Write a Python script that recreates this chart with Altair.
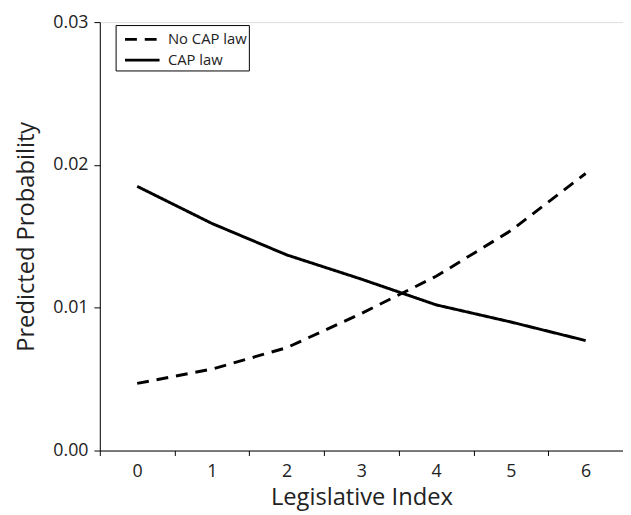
import altair as alt
import pandas as pd

index_vals = [0, 1, 2, 3, 4, 5, 6]
no_cap = [0.0047, 0.0057, 0.0072, 0.0096, 0.0122, 0.0154, 0.0194]
cap = [0.0185, 0.0159, 0.0137, 0.0120, 0.0102, 0.0090, 0.0077]
series_names = ["No CAP law", "CAP law"]

rows = []
for i, v in zip(index_vals, no_cap):
    rows.append({"idx": i, "p": v, "s": series_names[0]})
for i, v in zip(index_vals, cap):
    rows.append({"idx": i, "p": v, "s": series_names[1]})
df = pd.DataFrame(rows)

FONT = "Open Sans"

chart = alt.Chart(df).mark_line(color="black", strokeWidth=3).encode(
    x=alt.X("idx:O", bandPosition=0.5,
            scale=alt.Scale(type="band", paddingInner=0, paddingOuter=0),
            axis=alt.Axis(title="Legislative Index", labelAngle=0, tickBand="extent",
                          tickSize=5, labelPadding=7, titlePadding=6,
                          domainColor="black", tickColor="black", grid=False,
                          labelFontSize=18, titleFontSize=24, labelColor="#222",
                          titleColor="#222", labelFont=FONT, titleFont=FONT,
                          titleFontWeight="normal")),
    y=alt.Y("p:Q", scale=alt.Scale(domain=[0, 0.03], nice=False, zero=True),
            axis=alt.Axis(title="Predicted Probability", values=[0, 0.01, 0.02, 0.03],
                          format=".2f", tickSize=6, labelPadding=6, titlePadding=15,
                          domainColor="black", tickColor="black", grid=False,
                          labelFontSize=18, titleFontSize=24, labelColor="#222",
                          titleColor="#222", labelFont=FONT, titleFont=FONT,
                          titleFontWeight="normal")),
    strokeDash=alt.StrokeDash("s:N",
                              scale=alt.Scale(domain=series_names, range=[[12, 8], [1, 0]]),
                              legend=alt.Legend(title=None, orient="none", legendX=16, legendY=3,
                                                strokeColor="black", fillColor="white",
                                                padding=2, symbolType="M-0.45,0H2.73",
                                                symbolStrokeColor="black", symbolStrokeWidth=3,
                                                symbolSize=484, labelFontSize=15,
                                                labelFont=FONT, labelColor="#222",
                                                rowPadding=0, labelOffset=26)),
    detail="s:N",
).properties(
    width=530, height=434,
    autosize=alt.AutoSizeParams(type="none"),
    padding={"left": 93, "top": 11, "right": 0, "bottom": 60},
).configure_view(stroke=None).configure(background="white")

chart.save("out.html", embed_options={"renderer": "svg", "actions": False})
